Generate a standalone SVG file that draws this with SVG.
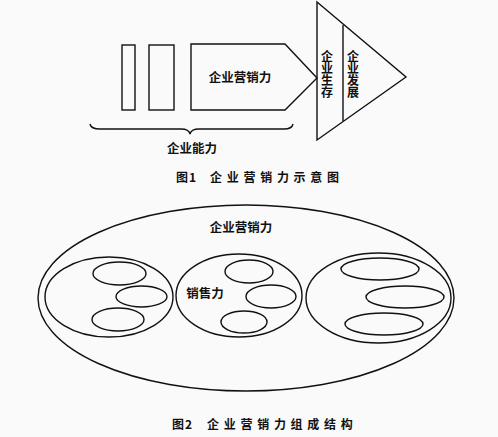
<svg xmlns="http://www.w3.org/2000/svg" width="498" height="437" viewBox="0 0 498 437">
<style>
.s{fill:none;stroke:#111;stroke-width:1.4}
.t{font-family:"Noto Sans CJK SC","Noto Sans",sans-serif;font-weight:bold;fill:#111;font-size:12.5px}
.v{font-family:"Noto Sans CJK SC","Noto Sans",sans-serif;font-weight:bold;fill:#111;font-size:12px;writing-mode:vertical-rl}
.c{font-family:"Noto Sans CJK SC","Noto Sans",sans-serif;fill:#111;font-size:12px;font-weight:bold}
</style>
<rect width="498" height="437" fill="#fafafa"/>
<g id="rect1"><rect class="s" x="122" y="45" width="13" height="65"/></g>
<g id="rect2"><rect class="s" x="149" y="45" width="25" height="65"/></g>
<g id="marketing"><polygon class="s" points="191,44 285,44 317,78 285,110 191,110"/>
<text class="t" x="240" y="82" text-anchor="middle">企业营销力</text></g>
<g id="triangle"><polygon class="s" points="317,2 406,77 317,140"/>
<line class="s" x1="343" y1="25" x2="343" y2="121"/>
<text class="v" x="327" y="50">企业生存</text>
<text class="v" x="353" y="50">企业发展</text></g>
<g id="brace"><path class="s" d="M90,124 Q91,129 100,129 L181,129 Q189,129 190,134 Q191,129 199,129 L284,129 Q292,129 293,124"/>
<text class="t" x="192" y="153" text-anchor="middle">企业能力</text></g>
<text class="c" x="176" y="182" letter-spacing="1">图1<tspan x="210">企 业 营 销 力 示 意 图</tspan></text>
<g id="outer"><ellipse class="s" cx="246" cy="298" rx="208" ry="93"/>
<text class="t" x="241" y="232" text-anchor="middle">企业营销力</text></g>
<g id="g1"><ellipse class="s" cx="109" cy="297" rx="64" ry="40"/>
<ellipse class="s" cx="119.5" cy="273.5" rx="26.5" ry="11.5"/>
<ellipse class="s" cx="141.5" cy="296.5" rx="25.5" ry="10.5"/>
<ellipse class="s" cx="118" cy="319.5" rx="26" ry="11.5"/></g>
<g id="g2"><ellipse class="s" cx="239" cy="295.5" rx="63" ry="41.5"/>
<ellipse class="s" cx="249" cy="271.5" rx="24" ry="11.5"/>
<ellipse class="s" cx="271" cy="296.5" rx="25" ry="11.5"/>
<ellipse class="s" cx="244" cy="322" rx="23" ry="11"/>
<text class="t" x="205" y="297.5" text-anchor="middle" font-size="12">销售力</text></g>
<g id="g3"><ellipse class="s" cx="378.5" cy="298" rx="72.5" ry="45"/>
<ellipse class="s" cx="380" cy="269" rx="39" ry="11"/>
<ellipse class="s" cx="405" cy="297" rx="39" ry="11"/>
<ellipse class="s" cx="384" cy="324" rx="39" ry="11"/></g>
<text class="c" x="172" y="429" letter-spacing="1">图2<tspan x="207">企 业 营 销 力 组 成 结 构</tspan></text>
</svg>
